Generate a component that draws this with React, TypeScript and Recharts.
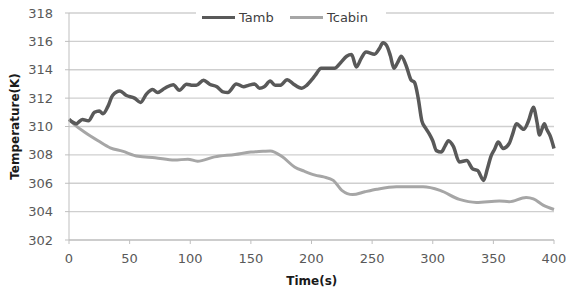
import { CartesianGrid, Line, LineChart, XAxis, YAxis } from 'recharts';

// Ambient temperature (time in s, temperature in K)
const tambTime = [
  0, 6, 11, 16, 21, 25, 28, 32, 36, 42, 47, 54, 59, 64, 69, 73, 79, 86, 91, 97, 102, 105, 111, 116, 122, 127, 131,
  138, 144, 148, 153, 157, 161, 166, 170, 174, 180, 185, 192, 196, 201, 203, 208, 213, 219, 224, 229, 233, 237, 241,
  245, 252, 256, 259, 262, 265, 268, 271, 274, 278, 282, 285, 288, 291, 294, 297, 300, 303, 307, 310, 313, 317, 322,
  328, 333, 337, 342, 345, 348, 351, 354, 358, 363, 366, 369, 375, 379, 383, 386, 388, 390, 392, 394, 397, 400,
];
const tambTemp = [
  310.5, 310.2, 310.5, 310.4, 311.0, 311.1, 310.9, 311.4, 312.2, 312.5, 312.2, 312.0, 311.7, 312.3, 312.6, 312.4, 312.7,
  312.95, 312.55, 312.98, 312.9, 312.9, 313.26, 312.98, 312.8, 312.44, 312.4, 313.0, 312.8, 312.9, 313.0, 312.7, 312.8,
  313.2, 312.9, 312.9, 313.3, 313.0, 312.7, 312.9, 313.38, 313.6, 314.1, 314.1, 314.1, 314.5, 314.95, 315.07, 314.2,
  314.8, 315.25, 315.1, 315.5, 315.9, 315.7, 315.0, 314.1, 314.5, 314.95, 314.3, 313.3, 313.1, 312.0, 310.4, 309.9,
  309.5, 309.0, 308.3, 308.2, 308.6, 309.0, 308.6, 307.5, 307.6, 307.0, 306.9, 306.2, 307.0, 307.9, 308.4, 308.9,
  308.45, 308.8, 309.5, 310.2, 309.8, 310.4, 311.35, 310.3, 309.4, 309.8, 310.2, 309.8, 309.3, 308.45,
];

// Cabin temperature
const tcabinTime = [
  0, 5, 13, 24, 34, 44, 57, 71, 87, 98, 106, 120, 137, 150, 160, 166, 176, 186, 194, 203, 210, 218, 225, 234, 244, 254,
  270, 292, 306, 322, 336, 355, 363, 377, 383, 391, 400,
];
const tcabinTemp = [
  310.5, 310.1, 309.6, 309.0, 308.5, 308.26, 307.9, 307.8, 307.63, 307.7, 307.55, 307.86, 308.03, 308.2, 308.25, 308.28,
  307.86, 307.15, 306.85, 306.57, 306.45, 306.2, 305.5, 305.2, 305.4, 305.58, 305.75, 305.75, 305.5, 304.86, 304.65,
  304.75, 304.7, 305.0, 304.9, 304.46, 304.15,
];

const xTicks = [0, 50, 100, 150, 200, 250, 300, 350, 400];
const yTicks = [302, 304, 306, 308, 310, 312, 314, 316, 318];

const tambData = tambTime.map((t, i) => ({ t, v: tambTemp[i] }));
const tcabinData = tcabinTime.map((t, i) => ({ t, v: tcabinTemp[i] }));

const DARK = '#595959';
const LIGHT = '#a6a6a6';
const GRID = '#cfcfcf';
const AXIS = '#bfbfbf';
const FONT = 'DejaVu Sans';

const tickStyle = { fill: '#595959', fontSize: 13, fontFamily: FONT };

function YTitle() {
  return (
    <text
      x={19}
      y={126.5}
      transform="rotate(-90 19 126.5)"
      textAnchor="middle"
      fontFamily={FONT}
      fontSize={12}
      fontWeight="bold"
      fill="#1a1a1a"
    >
      Temperature(K)
    </text>
  );
}

function XTitle() {
  return (
    <text x={311.8} y={285} textAnchor="middle" fontFamily={FONT} fontSize={12} fontWeight="bold" fill="#1a1a1a">
      Time(s)
    </text>
  );
}

function LegendItem({ left, color, width, label }: { left: number; color: string; width: number; label: string }) {
  return (
    <>
      <div style={{ position: 'absolute', left, top: 15.5, width: 33, height: width, background: color }} />
      <div
        style={{
          position: 'absolute',
          left: left + 37,
          top: 10,
          lineHeight: '15px',
          fontFamily: FONT,
          fontSize: 13,
          color: '#404040',
          whiteSpace: 'nowrap',
        }}
      >
        {label}
      </div>
    </>
  );
}

export default function App() {
  return (
    <div style={{ position: 'absolute', left: 0, top: 0, width: 566, height: 291, background: '#fff' }}>
      <LineChart width={566} height={291} data={tambData} margin={{ top: 13, right: 12, bottom: 0, left: 9 }}>
        <CartesianGrid vertical={false} stroke={GRID} strokeWidth={1.3} />
        <XAxis
          type="number"
          dataKey="t"
          domain={[0, 400]}
          ticks={xTicks}
          height={51}
          stroke={AXIS}
          tickSize={4}
          tickMargin={10}
          tick={tickStyle}
          label={{ content: () => <XTitle /> }}
        />
        <YAxis
          type="number"
          domain={[302, 318]}
          ticks={yTicks}
          width={60}
          stroke={AXIS}
          tickSize={4}
          tickMargin={12}
          tick={tickStyle}
          label={{ content: () => <YTitle /> }}
        />
        <Line
          data={tcabinData}
          dataKey="v"
          type="monotone"
          stroke={LIGHT}
          strokeWidth={3}
          dot={false}
          isAnimationActive={false}
        />
        <Line
          data={tambData}
          dataKey="v"
          type="monotone"
          stroke={DARK}
          strokeWidth={3.5}
          dot={false}
          isAnimationActive={false}
        />
      </LineChart>
      <div style={{ position: 'absolute', left: 196, top: 6, width: 190, height: 22, background: '#fff' }} />
      <LegendItem left={202} color={DARK} width={3.5} label="Tamb" />
      <LegendItem left={290} color={LIGHT} width={3} label="Tcabin" />
    </div>
  );
}
